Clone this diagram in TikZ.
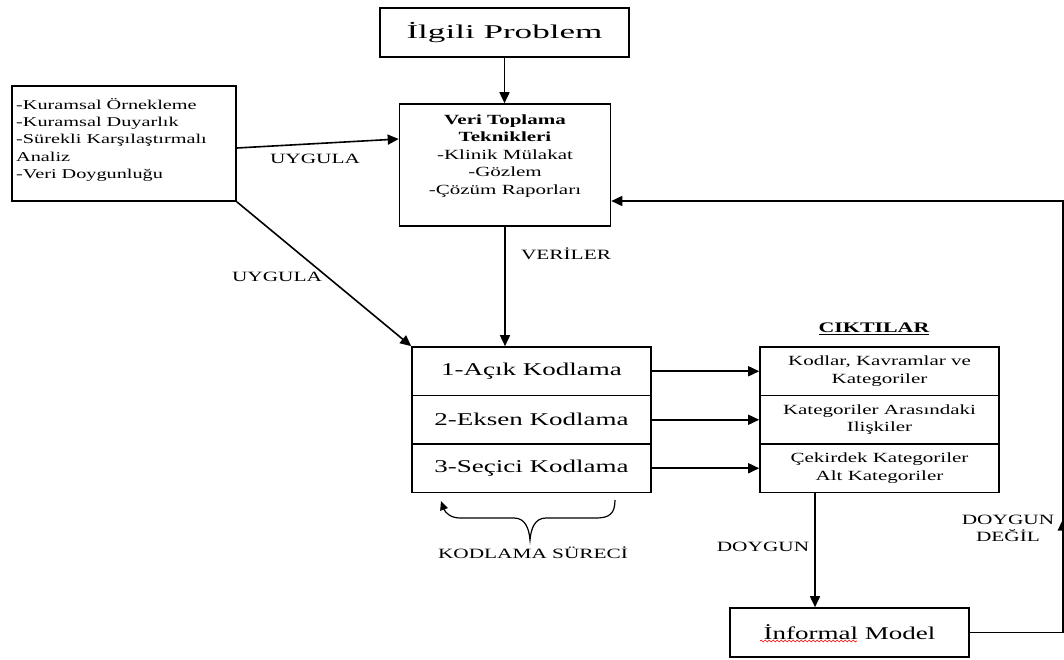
\documentclass[tikz,border=0pt]{standalone}
\usepackage{fontspec}
\setmainfont{Liberation Serif}[FakeStretch=1.5]
\newfontfamily\titlefont{Liberation Serif}[FakeStretch=1.8]
\usetikzlibrary{arrows.meta,decorations.pathmorphing}

\begin{document}
\begin{tikzpicture}[x=1pt,y=-1pt,
  box/.style={draw,line width=1.6pt,inner sep=0pt},
  flow/.style={line width=1.6pt,-{Triangle[length=11pt,width=10pt]}},
  lbl/.style={font=\fontsize{14.2}{17}\selectfont,inner sep=0pt},
  small/.style={font=\fontsize{14}{17.5}\selectfont,align=center,inner sep=0pt},
]
\useasboundingbox (0,0) rectangle (1064,659);

% problem and data collection
\node[box,minimum width=249,minimum height=49,font=\titlefont\fontsize{19.5}{22}\selectfont] (prob) at (504.5,32.5) {İlgili Problem};
\node[box,minimum width=211,minimum height=122] (veri) at (505,165) {};
\node[small] (veritxt) at (505,156) {\textbf{Veri Toplama}\\\textbf{Teknikleri}\\-Klinik Mülakat\\-Gözlem\\-Çözüm Raporları};

% methods box
\node[box,minimum width=224,minimum height=115] (yont) at (124,143.5) {};
\node[align=left,anchor=north west,font=\fontsize{13.5}{17.4}\selectfont,inner sep=0pt] (yonttxt) at (16,98)
  {-Kuramsal Örnekleme\\-Kuramsal Duyarlık\\-Sürekli Karşılaştırmalı\\Analiz\\-Veri Doygunluğu};

% coding stages
\node[box,minimum width=239,minimum height=48.5,font=\fontsize{18}{20}\selectfont] (kod1) at (531.5,371.25) {1-Açık Kodlama};
\node[box,minimum width=239,minimum height=48.5,font=\fontsize{18}{20}\selectfont] (kod2) at (531.5,419.75) {2-Eksen Kodlama};
\node[box,minimum width=239,minimum height=48.5,font=\fontsize{18}{20}\selectfont] (kod3) at (531.5,468.25) {3-Seçici Kodlama};

% outputs
\node[font=\bfseries\fontsize{14.6}{17}\selectfont,inner sep=0pt] (cikt) at (874,329) {\underline{CIKTILAR}};
\node[box,small,minimum width=239,minimum height=48.5] (out1) at (879.5,371.25) {Kodlar, Kavramlar ve\\Kategoriler};
\node[box,small,minimum width=239,minimum height=48.5] (out2) at (879.5,419.75) {Kategoriler Arasındaki\\Ilişkiler};
\node[box,small,minimum width=239,minimum height=48.5] (out3) at (879.5,468.25) {Çekirdek Kategoriler\\Alt Kategoriler};

% model
\node[box,minimum width=239,minimum height=49,font=\fontsize{18}{20}\selectfont] (inf) at (849.5,632.5) {İnformal Model};
\draw[red,line width=0.6pt,decorate,decoration={snake,amplitude=1pt,segment length=4pt}] (760,641) -- (857,641);

% connectors
\draw[flow] (prob.south) -- (prob.south |- veri.north);
\draw[flow] ([yshift=-4.5pt]yont.east) -- ([yshift=26pt]veri.west);
\draw[flow] (yont.south east) -- (kod1.north west);
\draw[flow] (veri.south) -- (veri.south |- kod1.north);
\draw[flow] (kod1.east) -- (out1.west);
\draw[flow] (kod2.east) -- (out2.west);
\draw[flow] (kod3.east) -- (out3.west);

\coordinate (dtop) at ([xshift=-64.5pt]out3.south);
\draw[flow] (dtop) -- (dtop |- inf.north);

\coordinate (rb) at ([xshift=93pt]inf.east);
\coordinate (vin) at ([yshift=-36pt]veri.east);
\draw[flow] (inf.east) -- (rb) -- (rb |- vin) -- (vin);
\draw[flow] (rb) -- ([yshift=113pt]rb);

% coding process brace
\draw[line width=1.2pt,-{Triangle[length=9pt,width=8pt]}]
  (615,500) .. controls (615,514) and (609,518) .. (596,518) -- (546,518)
  .. controls (535,518) and (531,528) .. (530,540)
  .. controls (529,528) and (525,518) .. (514,518) -- (460,518)
  .. controls (450,518) and (445,512) .. (441,501);

% labels
\node[lbl] (l1) at (315,159) {UYGULA};
\node[lbl] (l2) at (277,277) {UYGULA};
\node[lbl] (l3) at (566,254) {VERİLER};
\node[lbl] (l4) at (763,547) {DOYGUN};
\node[lbl,align=center] (l5) at (1008,528) {DOYGUN\\DEĞİL};
\node[lbl] (l6) at (533,553) {KODLAMA SÜRECİ};
\end{tikzpicture}
\end{document}
